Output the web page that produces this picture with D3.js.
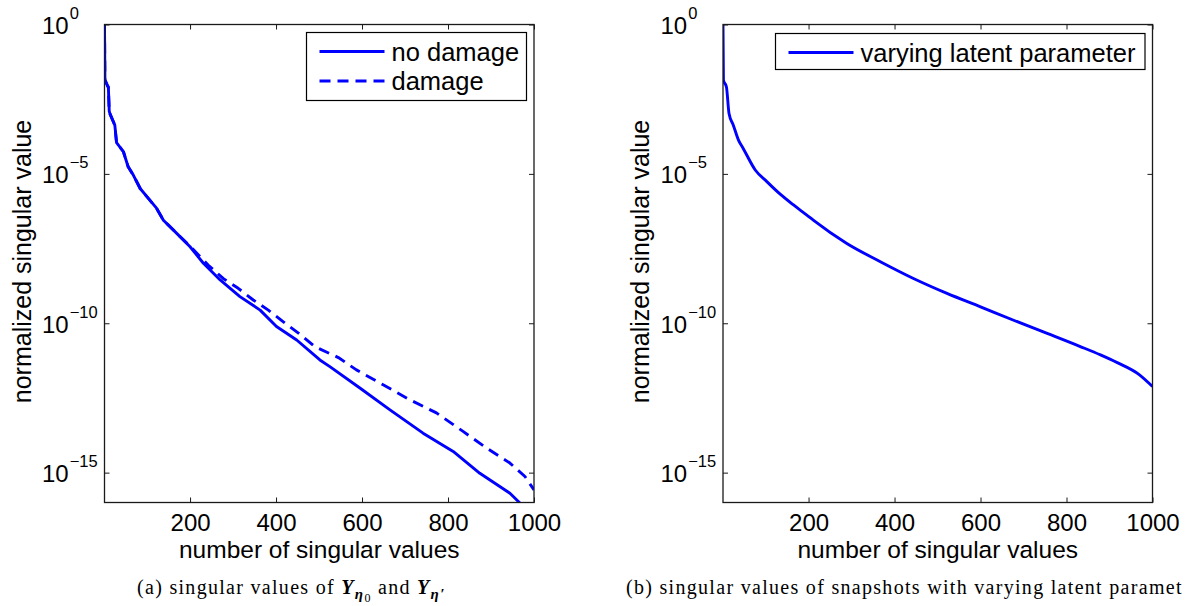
<!DOCTYPE html>
<html>
<head>
<meta charset="utf-8">
<script src="https://cdn.jsdelivr.net/npm/d3@7"></script>
<style>
body { margin: 0; background: #fff; }
svg { display: block; }
</style>
</head>
<body>
<div id="chart"></div>
<script>
// Singular values (index, normalized singular value)
let noDamageIdx = [1, 2, 5, 8, 10, 12, 14, 25, 29, 45, 56, 68, 84, 103, 122, 138, 169, 200,
    231, 270, 316, 363, 401, 448, 502, 526, 595, 665, 742, 812, 874, 944, 966, 1000];
let noDamageVal = [1, 1.41e-2, 1.12e-2, 8.9e-3, 7.9e-3, 1.26e-3, 1.0e-3, 4.27e-4, 1.12e-4, 5.5e-5,
    1.74e-5, 9.1e-6, 3.24e-6, 1.51e-6, 7.1e-7, 2.82e-7, 1.02e-7, 3.63e-8,
    1.02e-8, 2.82e-9, 7.8e-10, 2.75e-10, 7.8e-11, 2.75e-11, 5.9e-12, 3.47e-12, 6.8e-13,
    1.26e-13, 2.09e-14, 5.1e-15, 9.5e-16, 2.04e-16, 1.0e-16, 3.2e-17];

let damageIdx = [1, 2, 5, 8, 10, 12, 14, 25, 29, 45, 56, 68, 84, 103, 122, 138, 169, 200,
    242, 277, 312, 347, 382, 417, 452, 490, 545, 587, 649, 711, 773, 835, 890, 944, 979, 1000];
let damageVal = [1, 1.41e-2, 1.12e-2, 8.9e-3, 7.9e-3, 1.26e-3, 1.0e-3, 4.27e-4, 1.12e-4, 5.5e-5,
    1.74e-5, 9.1e-6, 3.24e-6, 1.51e-6, 7.1e-7, 2.82e-7, 1.02e-7, 3.8e-8,
    8.9e-9, 3.16e-9, 1.48e-9, 6.0e-10, 2.75e-10, 1.12e-10, 4.7e-11, 1.66e-11, 7.1e-12,
    2.75e-12, 8.7e-13, 2.75e-13, 1.0e-13, 2.4e-14, 6.6e-15, 2.09e-15, 7.4e-16, 2.63e-16];

let varyingIdx = [1, 2, 9, 15, 25, 37, 48, 76, 103, 134, 165, 196, 211, 289, 367, 444, 522,
    600, 677, 755, 832, 879, 918, 969, 1000];
let varyingVal = [1, 1.38e-2, 8.1e-3, 1.05e-3, 4.27e-4, 1.35e-4, 7.1e-5, 1.35e-5, 5.5e-6, 2.09e-6,
    9.1e-7, 4.17e-7, 2.82e-7, 4.68e-8, 1.15e-8, 3.16e-9, 1.0e-9, 3.55e-10, 1.26e-10,
    4.57e-11, 1.66e-11, 8.7e-12, 4.8e-12, 1.91e-12, 7.6e-13];

// Ticks
let xTicks = [200, 400, 600, 800, 1000];
let yTicks = [1, 1e-5, 1e-10, 1e-15];
let yTickExp = ['0', '\u22125', '\u221210', '\u221215'];

let sans = '"Liberation Sans", Arial, Helvetica, sans-serif';
let serif = '"Liberation Serif", "DejaVu Serif", serif';
let plotTop = 24.5, plotBottom = 502.5;

let svg = d3.select('#chart')
    .append('svg')
    .attr('width', 1187)
    .attr('height', 606);

function drawPanel(p) {
    let x = d3.scaleLinear().domain([1, 1000]).range([p.left, p.right]);
    let y = d3.scaleLog().domain([1e-16, 1]).range([plotBottom, plotTop]);

    let g = svg.append('g');

    g.append('clipPath')
        .attr('id', 'clip-' + p.id)
        .append('rect')
        .attr('x', p.left)
        .attr('y', plotTop)
        .attr('width', p.right - p.left)
        .attr('height', plotBottom - plotTop);

    // Lines
    let line = d3.line()
        .curve(p.curve)
        .x(function (d) { return x(d[0]); })
        .y(function (d) { return y(d[1]); });

    p.series.forEach(function (s) {
        g.append('path')
            .datum(d3.zip(s.idx, s.val))
            .attr('clip-path', 'url(#clip-' + p.id + ')')
            .attr('fill', 'none')
            .attr('stroke', '#0000ff')
            .attr('stroke-width', 2.9)
            .attr('stroke-linejoin', 'round')
            .attr('stroke-dasharray', s.dash ? '11,7' : null)
            .attr('d', line);
    });

    // Frame
    g.append('rect')
        .attr('x', p.left)
        .attr('y', plotTop)
        .attr('width', p.right - p.left)
        .attr('height', plotBottom - plotTop)
        .attr('fill', 'none')
        .attr('stroke', '#1a1a1a')
        .attr('stroke-width', 1.3);

    // X axis (bottom with labels, top ticks only)
    let xb = g.append('g')
        .attr('transform', 'translate(0,' + plotBottom + ')')
        .call(d3.axisBottom(x).tickValues(xTicks).tickFormat(d3.format('d'))
            .tickSize(-5).tickPadding(11));
    xb.select('.domain').remove();
    xb.selectAll('line').attr('stroke', '#1a1a1a');
    xb.selectAll('text')
        .attr('fill', '#000')
        .style('font-family', sans)
        .style('font-size', '24px');

    let xt = g.append('g')
        .attr('transform', 'translate(0,' + plotTop + ')')
        .call(d3.axisTop(x).tickValues(xTicks).tickSize(-5).tickFormat(''));
    xt.select('.domain').remove();
    xt.selectAll('line').attr('stroke', '#1a1a1a');

    // Y axis (left with labels, right ticks only)
    let yl = g.append('g')
        .attr('transform', 'translate(' + p.left + ',0)')
        .call(d3.axisLeft(y).tickValues(yTicks).tickSize(-5).tickFormat(''));
    yl.select('.domain').remove();
    yl.selectAll('line').attr('stroke', '#1a1a1a');
    yl.selectAll('.tick').each(function (d, i) {
        let t = d3.select(this).append('text')
            .attr('x', -62.5)
            .attr('y', 9)
            .attr('text-anchor', 'start')
            .attr('fill', '#000')
            .style('font-family', sans)
            .style('font-size', '24px');
        t.append('tspan').text('10');
        t.append('tspan')
            .attr('dx', 1)
            .attr('dy', -15)
            .style('font-size', '16.5px')
            .text(yTickExp[i]);
    });

    let yr = g.append('g')
        .attr('transform', 'translate(' + p.right + ',0)')
        .call(d3.axisRight(y).tickValues(yTicks).tickSize(-5).tickFormat(''));
    yr.select('.domain').remove();
    yr.selectAll('line').attr('stroke', '#1a1a1a');

    // Axis titles
    g.append('text')
        .attr('x', (p.left + p.right) / 2)
        .attr('y', 558)
        .attr('text-anchor', 'middle')
        .style('font-family', sans)
        .style('font-size', '24.5px')
        .text('number of singular values');

    g.append('text')
        .attr('transform', 'translate(' + (p.left - 74) + ',' + ((plotTop + plotBottom) / 2 - 2) + ') rotate(-90)')
        .attr('text-anchor', 'middle')
        .style('font-family', sans)
        .style('font-size', '25px')
        .text('normalized singular value');

    // Legend
    let lg = g.append('g');
    lg.append('rect')
        .attr('x', p.legend.x0)
        .attr('y', p.legend.y0)
        .attr('width', p.legend.x1 - p.legend.x0)
        .attr('height', p.legend.y1 - p.legend.y0)
        .attr('fill', '#fff')
        .attr('stroke', '#000')
        .attr('stroke-width', 1.2);

    p.series.forEach(function (s, i) {
        let ry = p.legend.y0 + 19 + i * 29.5;
        lg.append('line')
            .attr('x1', p.legend.x0 + 13)
            .attr('x2', p.legend.x0 + 78)
            .attr('y1', ry)
            .attr('y2', ry)
            .attr('stroke', '#0000ff')
            .attr('stroke-width', 2.9)
            .attr('stroke-dasharray', s.dash ? '11,7' : null);
        lg.append('text')
            .attr('x', p.legend.x0 + 85)
            .attr('y', ry + 9)
            .style('font-family', sans)
            .style('font-size', '25.5px')
            .text(s.name);
    });
}

drawPanel({
    id: 'a',
    left: 104.5,
    right: 534,
    curve: d3.curveLinear,
    legend: { x0: 306.5, y0: 32.5, x1: 526.5, y1: 100.5 },
    series: [
        { name: 'no damage', idx: noDamageIdx, val: noDamageVal, dash: false },
        { name: 'damage', idx: damageIdx, val: damageVal, dash: true }
    ]
});

drawPanel({
    id: 'b',
    left: 723,
    right: 1152.5,
    curve: d3.curveMonotoneX,
    legend: { x0: 775.5, y0: 33.5, x1: 1145, y1: 69.5 },
    series: [
        { name: 'varying latent parameter', idx: varyingIdx, val: varyingVal, dash: false }
    ]
});

// Captions
let capA = svg.append('text')
    .attr('x', 137)
    .attr('y', 594)
    .style('font-family', serif)
    .style('font-size', '20px')
    .style('letter-spacing', '1.3px');
capA.append('tspan').text('(a) singular values of ');
capA.append('tspan').style('font-weight', 'bold').style('font-style', 'italic').text('Y');
capA.append('tspan').attr('dy', 5).style('font-size', '15px').style('font-weight', 'bold').style('font-style', 'italic').text('\u03b7');
capA.append('tspan').attr('dy', 3).style('font-size', '12px').text('0');
capA.append('tspan').attr('dy', -8).text('  and ');
capA.append('tspan').style('font-weight', 'bold').style('font-style', 'italic').text('Y');
capA.append('tspan').attr('dy', 5).style('font-size', '15px').style('font-weight', 'bold').style('font-style', 'italic').text('\u03b7\u2032');

// the reference crops this caption at the page edge
svg.append('text')
    .attr('x', 626)
    .attr('y', 594)
    .style('font-family', serif)
    .style('font-size', '20px')
    .style('letter-spacing', '1.3px')
    .text('(b) singular values of snapshots with varying latent paramet');
</script>
</body>
</html>
